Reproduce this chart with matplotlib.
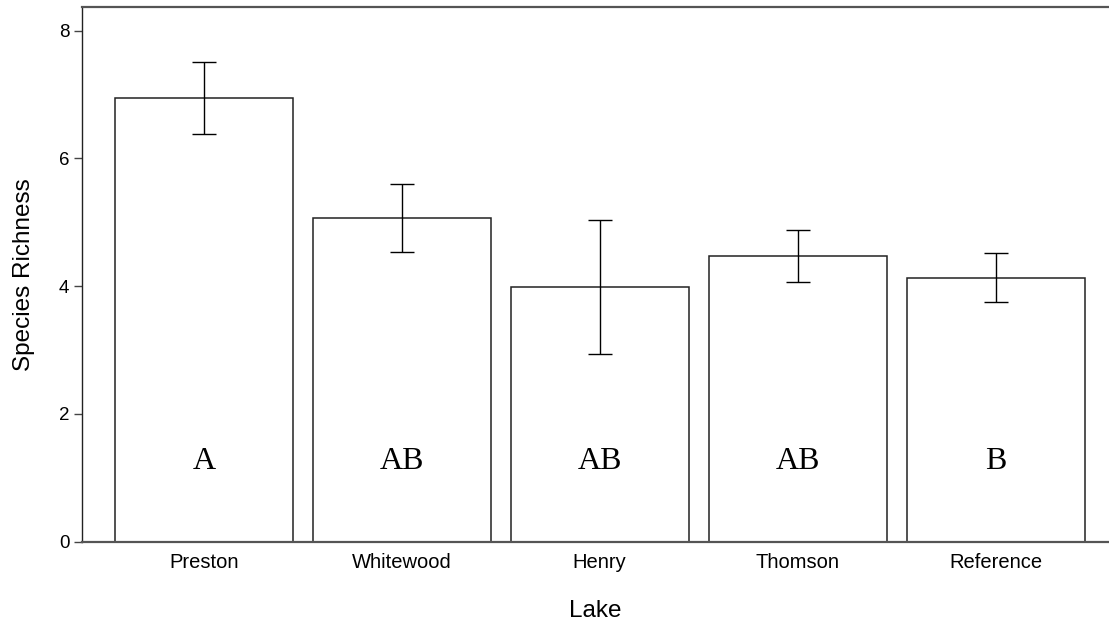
import numpy as np
import matplotlib.pyplot as plt

# Mean species richness per lake with standard errors
lakes = ["Preston", "Whitewood", "Henry", "Thomson", "Reference"]
richness = [6.94, 5.07, 3.99, 4.47, 4.13]
std_err = [0.565, 0.53, 1.05, 0.41, 0.385]
groups = ["A", "AB", "AB", "AB", "B"]

plt.rcParams["font.family"] = ["Liberation Sans", "DejaVu Sans"]

fig = plt.figure(figsize=(11.09, 6.21), dpi=100)
ax = fig.add_axes([0.0739, 0.1277, 0.9261, 0.861])

x = np.arange(len(lakes))
ax.bar(x, richness, width=0.9, color="white", edgecolor="#222222", linewidth=1.1)
ax.errorbar(x, richness, yerr=std_err, fmt="none", ecolor="black",
            elinewidth=1.0, capsize=8.5, capthick=1.0)

for xi, g in zip(x, groups):
    ax.text(xi, 1.26, g, ha="center", va="center", fontsize=23,
            family=["Liberation Serif", "DejaVu Serif"])

ax.set_xlim(-0.616, 4.573)
ax.set_ylim(0, 8.37)
ax.set_yticks([0, 2, 4, 6, 8])
ax.set_xticks(x)
ax.set_xticklabels(lakes, fontsize=14.5)
ax.tick_params(axis="x", length=0, pad=8)
ax.tick_params(axis="y", length=6, width=1.0, color="#444444", labelsize=13.5, pad=3)

ax.set_xlabel("Lake", fontsize=17.5, labelpad=20)
ax.set_ylabel("Species Richness", fontsize=17.5, labelpad=17)

ax.spines["right"].set_visible(False)
ax.spines["top"].set_linewidth(1.6)
ax.spines["top"].set_color("#555555")
ax.spines["left"].set_linewidth(1.0)
ax.spines["left"].set_color("#222222")
ax.spines["bottom"].set_linewidth(1.6)
ax.spines["bottom"].set_color("#555555")

fig.savefig("out.png", dpi=100)
